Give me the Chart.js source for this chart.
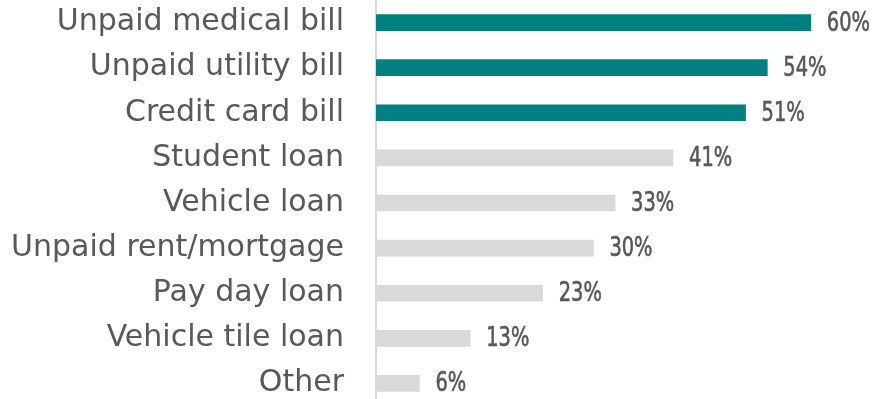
<!DOCTYPE html>
<html>
<head>
<meta charset="utf-8">
<script src="https://cdn.jsdelivr.net/npm/chart.js@4"></script>
<style>
  html, body { margin: 0; padding: 0; background: #fff; overflow: hidden; }
  #debtChart { display: block; }
</style>
</head>
<body>
<canvas id="debtChart" width="873" height="406"></canvas>
<script>
// categories and shares (percent)
const categories = [
  "Unpaid medical bill",
  "Unpaid utility bill",
  "Credit card bill",
  "Student loan",
  "Vehicle loan",
  "Unpaid rent/mortgage",
  "Pay day loan",
  "Vehicle tile loan",
  "Other"
];
const shares = [60, 54, 51, 41, 33, 30, 23, 13, 6];
const highlighted = [true, true, true, false, false, false, false, false, false];

const TEAL = "#008080";
const GREY = "#d9d9d9";
const TEXT = "#595959";

// value labels to the right of each bar, in a narrow face
const valueLabels = {
  id: "valueLabels",
  afterDatasetsDraw(chart) {
    const ctx = chart.ctx;
    const meta = chart.getDatasetMeta(0);
    const squeeze = 0.8;
    ctx.save();
    ctx.fillStyle = TEXT;
    ctx.strokeStyle = TEXT;
    ctx.lineWidth = 0.6;
    ctx.font = "27px 'DejaVu Sans Condensed', 'Liberation Sans Narrow', sans-serif";
    ctx.textAlign = "left";
    ctx.textBaseline = "middle";
    meta.data.forEach((bar, i) => {
      ctx.save();
      ctx.translate(bar.x + 16, bar.y + 1);
      ctx.scale(squeeze, 1);
      ctx.fillText(shares[i] + "%", 0, 0);
      ctx.strokeText(shares[i] + "%", 0, 0);
      ctx.restore();
    });
    ctx.restore();
  }
};

let ctx = document.getElementById("debtChart").getContext("2d");
new Chart(ctx, {
  type: "bar",
  data: {
    labels: categories,
    datasets: [{
      data: shares,
      backgroundColor: highlighted.map(h => h ? TEAL : GREY),
      barThickness: 16,
      borderWidth: 0
    }]
  },
  options: {
    indexAxis: "y",
    responsive: false,
    animation: false,
    devicePixelRatio: 1,
    layout: { padding: { top: 0, bottom: 0, left: 0, right: 26 } },
    plugins: {
      legend: { display: false },
      tooltip: { enabled: false }
    },
    scales: {
      x: {
        display: false,
        min: 0,
        max: 65
      },
      y: {
        grid: { display: false, drawTicks: false },
        border: { display: true, color: GREY, width: 2 },
        ticks: {
          color: TEXT,
          padding: 32,
          font: { family: "'DejaVu Sans', sans-serif", size: 30 }
        },
        afterFit(scale) {
          scale.width = 376;
          // the tick padding should only push labels sideways
          scale.paddingTop = 0;
          scale.paddingBottom = 0;
        }
      }
    }
  },
  plugins: [valueLabels]
});
</script>
</body>
</html>
